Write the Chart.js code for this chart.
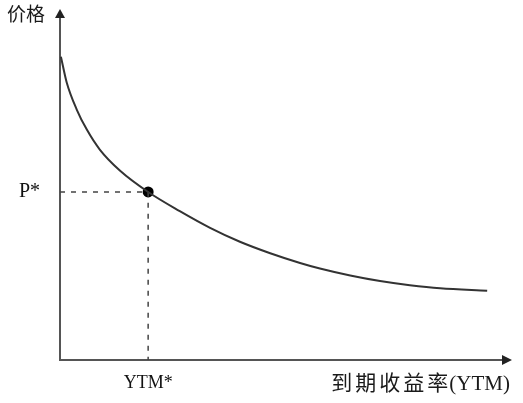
<!DOCTYPE html>
<html>
<head>
<meta charset="utf-8">
<script src="https://cdn.jsdelivr.net/npm/chart.js@4/dist/chart.umd.min.js"></script>
<style>
html,body{margin:0;padding:0;background:#fff;}
canvas{display:block;}
</style>
</head>
<body>
<canvas id="c" width="523" height="403"></canvas>
<script>
// Price–yield curve (arbitrary units)
const ytm =   [0.2, 1.5, 3.7, 5.9, 8.8, 13.3, 19.5, 26.5, 33.2, 39.8, 46.5, 53.1, 57.5, 64.2, 70.8, 77.4, 84.1, 94.5];
const price = [87.2, 79.7, 72.0, 66.3, 60.5, 54.4, 48.3, 42.8, 38.0, 34.0, 30.7, 27.9, 26.3, 24.3, 22.7, 21.5, 20.6, 19.9];
const ytmStar = 19.5;
const pStar = 48.3;
const xTickLabels = ['YTM*'];
const yTickLabels = ['P*'];
const xTitle = '到期收益率(YTM)';
const yTitle = '价格';

const curve = ytm.map((x, i) => ({x: x, y: price[i]}));
const guide = [{x: 0, y: pStar}, {x: ytmStar, y: pStar}, {x: ytmStar, y: 0}];
const dot = [{x: ytmStar, y: pStar}];

const serif = '"Liberation Serif", "Noto Sans CJK SC", serif';

const decor = {
  id: 'decor',
  afterDraw(chart) {
    const ctx = chart.ctx, a = chart.chartArea;
    ctx.save();
    ctx.fillStyle = '#222';
    ctx.beginPath();
    ctx.moveTo(a.left, a.top - 8);
    ctx.lineTo(a.left - 5, a.top + 1);
    ctx.lineTo(a.left + 5, a.top + 1);
    ctx.closePath();
    ctx.fill();
    ctx.beginPath();
    ctx.moveTo(a.right + 9, a.bottom);
    ctx.lineTo(a.right - 1, a.bottom - 5);
    ctx.lineTo(a.right - 1, a.bottom + 5);
    ctx.closePath();
    ctx.fill();
    ctx.fillStyle = '#1a1a1a';
    ctx.textBaseline = 'middle';
    ctx.font = '19px ' + serif;
    ctx.textAlign = 'left';
    ctx.fillText(yTitle, 7, 16);
    // x title: CJK part spaced, Latin part tight
    const k = xTitle.indexOf('(');
    const cjk = xTitle.slice(0, k), lat = xTitle.slice(k);
    ctx.font = '21px ' + serif;
    ctx.textAlign = 'right';
    ctx.letterSpacing = '0px';
    ctx.fillText(lat, 510, 384);
    const w = ctx.measureText(lat).width;
    ctx.letterSpacing = '3px';
    ctx.fillText(cjk, 510 - w + 2, 384);
    ctx.restore();
  }
};

new Chart(document.getElementById('c'), {
  type: 'line',
  data: {
    datasets: [
      {data: curve, borderColor: '#333', borderWidth: 2, pointRadius: 0, cubicInterpolationMode: 'monotone', fill: false},
      {data: guide, borderColor: '#444', borderWidth: 1.5, borderDash: [5, 6], pointRadius: 0, tension: 0, fill: false},
      {data: dot, showLine: false, pointRadius: 5.5, pointBackgroundColor: '#000', pointBorderColor: '#000', pointBorderWidth: 0}
    ]
  },
  options: {
    responsive: false,
    animation: false,
    devicePixelRatio: 1,
    clip: false,
    layout: {padding: {top: 17, right: 20, left: 0, bottom: 0}},
    plugins: {legend: {display: false}, tooltip: {enabled: false}},
    scales: {
      x: {
        type: 'linear', min: 0, max: 98,
        grid: {display: false, drawTicks: false},
        border: {display: true, color: '#555', width: 2},
        afterBuildTicks: s => { s.ticks = [{value: ytmStar}]; },
        afterFit: s => { s.height = 43; s.paddingLeft = 0; s.paddingRight = 0; },
        ticks: {
          autoSkip: false, maxRotation: 0, padding: 12, color: '#111',
          font: {family: serif, size: 18},
          callback: (v, i) => xTickLabels[i]
        }
      },
      y: {
        type: 'linear', min: 0, max: 98.6,
        grid: {display: false, drawTicks: false},
        border: {display: true, color: '#555', width: 2},
        afterBuildTicks: s => { s.ticks = [{value: pStar}]; },
        afterFit: s => { s.width = 60; s.paddingTop = 0; s.paddingBottom = 0; },
        ticks: {
          autoSkip: false, padding: 20, color: '#111',
          font: {family: serif, size: 20},
          callback: (v, i) => yTickLabels[i]
        }
      }
    }
  },
  plugins: [decor]
});
</script>
</body>
</html>
